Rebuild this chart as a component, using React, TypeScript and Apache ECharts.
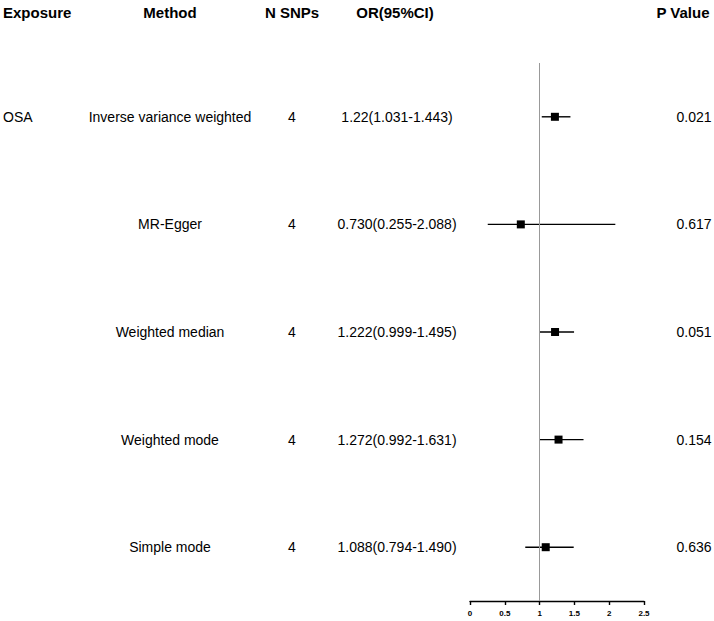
import React, { useEffect, useRef } from "react";
import * as echarts from "echarts";

const headers = ["Exposure", "Method", "N SNPs", "OR(95%CI)", "P Value"];
const exposures = ["OSA", "", "", "", ""];
const methods = [
  "Inverse variance weighted",
  "MR-Egger",
  "Weighted median",
  "Weighted mode",
  "Simple mode",
];
const nSnps = [4, 4, 4, 4, 4];
const orValues = [1.22, 0.73, 1.222, 1.272, 1.088];
const lowerCI = [1.031, 0.255, 0.999, 0.992, 0.794];
const upperCI = [1.443, 2.088, 1.495, 1.631, 1.49];
const orLabels = [
  "1.22(1.031-1.443)",
  "0.730(0.255-2.088)",
  "1.222(0.999-1.495)",
  "1.272(0.992-1.631)",
  "1.088(0.794-1.490)",
];
const pValues = ["0.021", "0.617", "0.051", "0.154", "0.636"];
const xTicks = [0, 0.5, 1, 1.5, 2, 2.5];

const FONT = "Arial, 'Liberation Sans', Helvetica, sans-serif";

export default function App() {
  const ref = useRef<HTMLDivElement>(null);
  useEffect(() => {
    if (!ref.current) return;
    const chart = echarts.init(ref.current, null, { renderer: "svg" });
    const rows = methods.map((_, i) => i);
    const txt = (x: number, y: number, text: string, align: string) => ({
      type: "text",
      x,
      y,
      style: {
        text,
        align,
        verticalAlign: "middle",
        fontSize: 14,
        fontFamily: FONT,
        fill: "#000",
      },
    });
    const head = (x: number, text: string, align: string) => ({
      type: "text",
      x,
      y: 12,
      style: {
        text,
        align,
        verticalAlign: "middle",
        fontSize: 15,
        fontWeight: "bold",
        fontFamily: FONT,
        fill: "#000",
      },
    });
    chart.setOption({
      animation: false,
      backgroundColor: "#fff",
      grid: { left: 470, right: 70, top: 63, bottom: 20 },
      xAxis: {
        type: "value",
        min: xTicks[0],
        max: xTicks[xTicks.length - 1],
        interval: 0.5,
        splitLine: { show: false },
        axisLine: { show: true, lineStyle: { color: "#000", width: 1.4 } },
        axisTick: { show: true, length: 4, lineStyle: { color: "#000", width: 1.4 } },
        axisLabel: {
          fontSize: 8,
          fontWeight: "bold",
          color: "#000",
          margin: 8,
          fontFamily: FONT,
        },
      },
      yAxis: {
        type: "category",
        data: methods,
        inverse: true,
        show: false,
        boundaryGap: true,
      },
      graphic: [
        head(3, headers[0], "left"),
        head(170, headers[1], "center"),
        head(292, headers[2], "center"),
        head(395, headers[3], "center"),
        head(683, headers[4], "center"),
      ],
      series: [
        {
          type: "custom",
          clip: false,
          silent: true,
          data: rows.map((i) => [1, i]),
          encode: { x: 0, y: 1 },
          renderItem: (params: any, api: any) => {
            const i = api.value(1);
            const y = api.coord([1, i])[1];
            return {
              type: "group",
              children: [
                txt(3, y, exposures[i], "left"),
                txt(170, y, methods[i], "center"),
                txt(292, y, String(nSnps[i]), "center"),
                txt(397, y, orLabels[i], "center"),
                txt(694, y, pValues[i], "center"),
              ],
            };
          },
        },
        {
          type: "custom",
          clip: false,
          silent: true,
          data: rows.map((i) => [lowerCI[i], upperCI[i], i]),
          encode: { x: [0, 1], y: 2 },
          renderItem: (params: any, api: any) => {
            const i = api.value(2);
            const p1 = api.coord([api.value(0), i]);
            const p2 = api.coord([api.value(1), i]);
            return {
              type: "line",
              shape: { x1: p1[0], y1: p1[1], x2: p2[0], y2: p2[1] },
              style: { stroke: "#000", lineWidth: 1.4 },
            };
          },
        },
        {
          type: "scatter",
          symbol: "rect",
          symbolSize: 8,
          itemStyle: { color: "#000", opacity: 1 },
          data: rows.map((i) => [orValues[i], i]),
          markLine: {
            silent: true,
            symbol: "none",
            label: { show: false },
            lineStyle: { color: "#999", width: 1, type: "solid" },
            data: [{ xAxis: 1 }],
          },
          z: 5,
        },
      ],
    });
    return () => chart.dispose();
  }, []);
  return <div ref={ref} style={{ width: 714, height: 621, position: "absolute", left: 0, top: 0 }} />;
}
